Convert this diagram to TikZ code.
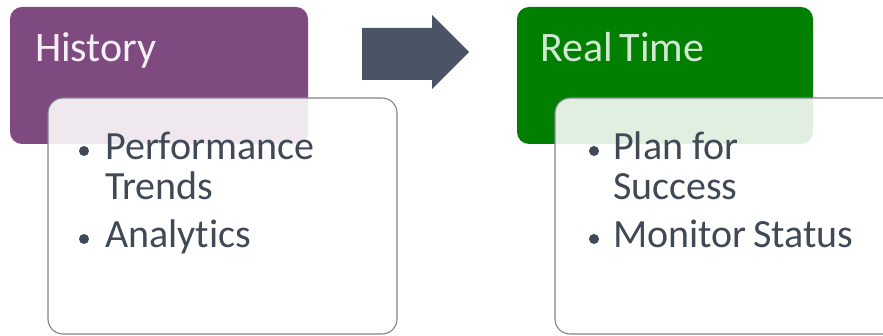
\documentclass[tikz,border=0pt]{standalone}
\usepackage{fontspec}
\setmainfont{Carlito}[Ligatures=NoCommon]
\begin{document}
\definecolor{histpurple}{HTML}{7E4A80}
\definecolor{rtgreen}{HTML}{007F00}
\definecolor{arrowslate}{HTML}{4A5464}
\definecolor{bodytext}{HTML}{404955}
\definecolor{cardedge}{HTML}{808290}
\begin{tikzpicture}[x=1pt,y=-1pt,
  header/.style={rounded corners=12pt},
  card/.style={rounded corners=15pt, draw=cardedge, line width=1.1pt, fill=white, fill opacity=0.88, draw opacity=1},
  title/.style={anchor=base west, inner sep=0pt, font=\fontsize{42}{46}\selectfont},
  item/.style={anchor=base west, inner sep=0pt, text=bodytext, font=\fontsize{40}{42}\selectfont},
  bulletdot/.style={circle, fill=bodytext, draw=none, inner sep=0pt, minimum size=10pt}]
\useasboundingbox (0,0) rectangle (883,336);
\clip (0,0) rectangle (883,336);
\fill[white] (0,0) rectangle (883,336);

% left column: history
\fill[histpurple, header] (10,7) rectangle (308,144);
\node[title, text=histpurple!8] (histT) at (35,62) {History};
\draw[card] (48,98) rectangle (397,334);
\node[bulletdot] (b1) at (84,151) {};
\node[item] (perf) at (105,160) {Performance};
\node[item] (trend) at (105,200) {Trends};
\node[bulletdot] (b2) at (84,239) {};
\node[item] (anal) at (105,248) {Analytics};

% block arrow between columns
\fill[arrowslate] (362,28) -- (432,28) -- (432,15) -- (469,52) -- (432,89) -- (432,80) -- (362,80) -- cycle;

% right column: real time
\fill[rtgreen, header] (517,7) rectangle (813,144);
\node[title, text=rtgreen!18] (rtT) at (540,62) {Real\,Time};
\draw[card] (555,98) rectangle (906,334);
\node[bulletdot] (b3) at (594,151) {};
\node[item] (plan) at (613,160) {Plan for};
\node[item] (succ) at (613,200) {Success};
\node[bulletdot] (b4) at (594,239) {};
\node[item] (mon) at (613,248) {Monitor\,Status};
\end{tikzpicture}
\end{document}
